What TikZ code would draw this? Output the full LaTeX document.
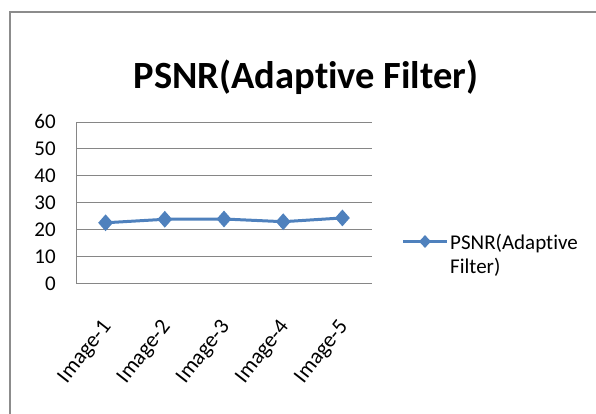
\documentclass[tikz,border=0pt]{standalone}
\usepackage{fontspec}
\setmainfont{Carlito}[Ligatures=NoCommon]
\usepackage{tikz}
\usetikzlibrary{shapes.geometric}
\definecolor{serie}{HTML}{4F81BD}
\definecolor{marco}{HTML}{8C8C8C}
\definecolor{rejilla}{HTML}{868686}

\begin{document}
\begin{tikzpicture}[x=1pt,y=-1pt,
  rombo/.style={diamond,fill=serie,inner sep=0pt,minimum width=15pt,minimum height=17pt},
  etiq/.style={font=\fontsize{21}{24}\selectfont}]
\useasboundingbox (0,0) rectangle (596,414);
\draw[marco,line width=1.5pt] (10,414) -- (10,12) -- (596,12);
\node[font=\fontsize{38.5}{40}\bfseries] (titulo) at (306,77) {PSNR(Adaptive Filter)};
\begin{scope}[shift={(76,283.3)},x=59.2pt,y=2.69pt]
  \foreach \v in {0,10,...,60}{
    \draw[rejilla,line width=0.7pt] (0,\v) -- (5,\v);
    \node[etiq,anchor=east,inner sep=0pt] (y\v) at (-0.34,\v) {\v};
  }
  \draw[rejilla,line width=0.7pt] (0,0) -- (0,60);
  \foreach \i/\v in {1/22.5,2/23.8,3/23.9,4/22.9,5/24.3}{
    \coordinate (p\i) at (\i-0.5,\v);
    \node[font=\fontsize{22}{24}\selectfont,rotate=52,anchor=east] (x\i) at (\i-0.43,-14) {Image-\i};
  }
  \draw[serie,line width=3pt,line join=round] (p1) -- (p2) -- (p3) -- (p4) -- (p5);
  \foreach \i in {1,...,5}
    \node[rombo] at (p\i) {};
\end{scope}
% leyenda
\coordinate (la) at (403,241.5);
\coordinate (lb) at (447,241.5);
\draw[serie,line width=3pt] (la) -- (lb);
\node[rombo,minimum width=12pt,minimum height=13pt] at (425,241.5) {};
\node[etiq,anchor=west,align=left,inner sep=0pt] (leyenda) at (450,255) {PSNR(Adaptive\\Filter)};
\end{tikzpicture}
\end{document}
